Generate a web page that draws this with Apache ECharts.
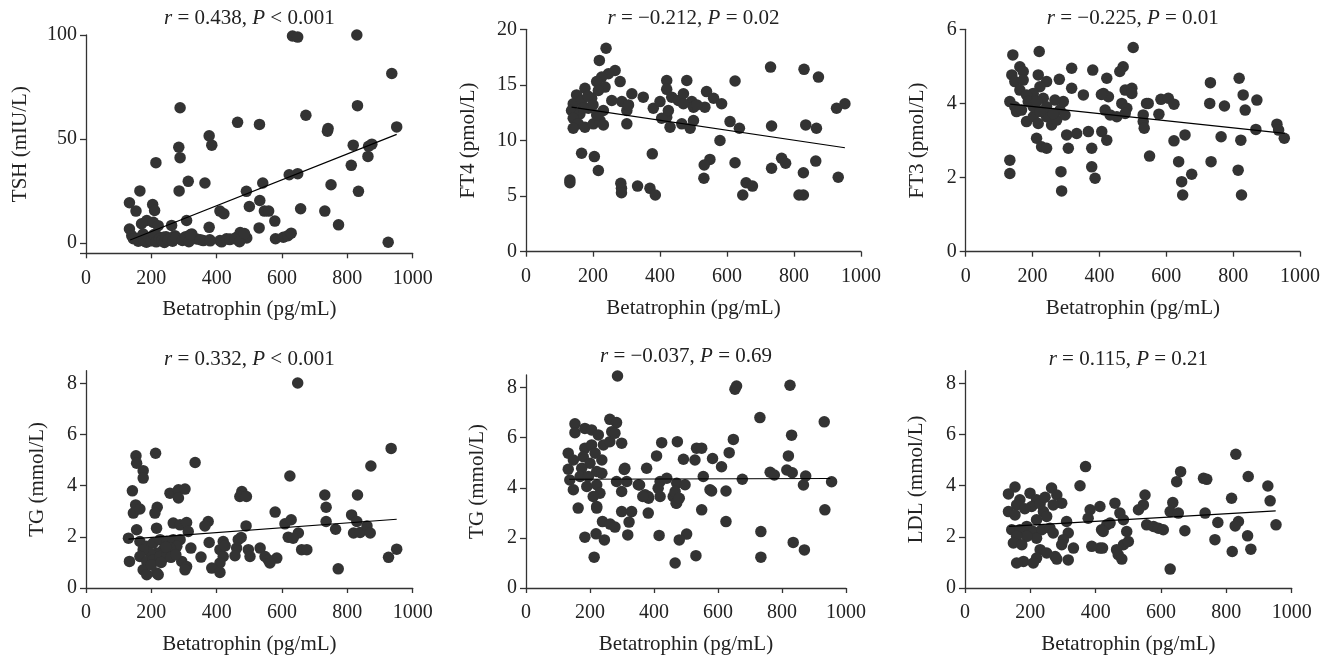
<!DOCTYPE html>
<html>
<head>
<meta charset="utf-8">
<script src="https://cdn.jsdelivr.net/npm/echarts@6/dist/echarts.min.js"></script>
<style>
html,body{margin:0;padding:0;background:#fff;}
#c{width:1331px;height:656px;}
</style>
</head>
<body>
<div id="c"></div>
<script>
// ---------- DATA ----------
const xName = 'Betatrophin (pg/mL)';
const xTicks = [0, 200, 400, 600, 800, 1000];

const yNames = ['TSH (mIU/L)', 'FT4 (pmol/L)', 'FT3 (pmol/L)', 'TG (mmol/L)', 'TG (mmol/L)', 'LDL (mmol/L)'];
const titleR = ['0.438', '\u22120.212', '\u22120.225', '0.332', '\u22120.037', '0.115'];
const titleP = ['< 0.001', '= 0.02', '= 0.01', '< 0.001', '= 0.69', '= 0.21'];
const yMin = [-5, 0, 0, 0, 0, 0];
const yMax = [100, 20, 6, 8.5, 8.5, 8.5];
const yLabelTicks = [[0, 50, 100], [0, 5, 10, 15, 20], [0, 2, 4, 6], [0, 2, 4, 6, 8], [0, 2, 4, 6, 8], [0, 2, 4, 6, 8]];
const yTickMarks = [[-5, 0, 50, 100], [0, 5, 10, 15, 20], [0, 2, 4, 6], [0, 2, 4, 6, 8], [0, 2, 4, 6, 8], [0, 2, 4, 6, 8]];

const tshPts = [
 [829,100],[632,99.5],[648,99],[936,81.5],[288,65],[831,66],[673,61.4],[464,58],[531,57],[741,55],[739,53.7],
 [951,55.8],[377,51.5],[385,47],[284,46],[288,41],[818,47],[875,47.5],[865,46.5],[863,41.6],[214,38.6],[812,37.3],
 [648,33.3],[622,32.8],[541,28.8],[750,28],[313,29.6],[364,28.8],[285,25],[491,24.8],[834,24.8],[165,25],
 [133,19.3],[204,18.5],[210,15.6],[532,20.4],[153,15.3],[500,17.5],[546,15.3],[559,15.3],[410,15.3],[422,14],
 [657,16.4],[731,15.3],[578,10.5],[308,10.8],[773,8.7],[170,9.2],[186,10.8],[206,9.9],[221,8.3],[262,8.4],
 [377,7.5],[530,7.2],[133,6.7],[580,2],[604,2.7],[618,3.5],[628,4.7],[925,0.3],[472,5],[477,2.7],[492,2.4],
 [140,3.5],[155,1.9],[175,4.3],[196,2.7],[216,3.5],[237,2.7],[257,1.9],[272,3.5],[288,1.9],[308,2.7],[324,4.3],
 [339,1.9],[359,1.1],[379,1.5],[410,1.1],[441,1.9],[461,2.7],[145,2],[160,0.8],[170,3],[178,1],[185,0.3],
 [192,2],[200,1],[208,4],[215,0.5],[225,2],[232,1],[240,0.2],[245,3],[252,1.5],[265,0.8],[275,2.5],[295,1.2],
 [305,3],[315,0.6],[320,4],[350,1.5],[380,1],[415,0.5],[430,2],[440,1.6],[455,2],[470,0.6],[485,4.5]
];
const ft4Pts = [
 [239,18.3],[219,17.2],[266,16.3],[246,16.0],[226,15.7],[211,15.3],[281,15.3],[236,14.8],[216,14.5],[176,14.7],
 [151,14.1],[141,13.3],[136,12.7],[196,13.8],[166,13.6],[186,12.9],[161,12.4],[141,12.0],[156,11.5],[141,11.1],
 [176,11.2],[201,11.5],[221,11.8],[231,11.4],[211,12.3],[231,12.7],[256,13.6],[286,13.5],[316,14.2],[350,13.9],
 [301,12.7],[301,11.5],[380,12.9],[400,13.5],[420,15.4],[420,14.6],[435,13.9],[455,13.6],[470,14.2],[480,15.4],
 [495,13.5],[500,13.0],[420,12.1],[430,11.2],[465,11.5],[490,11.1],[500,11.8],[539,14.4],[534,13.0],[560,13.8],
 [584,13.3],[730,16.6],[830,16.4],[873,15.7],[624,15.35],[927,12.9],[952,13.3],[609,11.7],[637,11.1],[733,11.3],
 [835,11.4],[867,11.1],[579,10.0],[166,8.85],[204,8.55],[377,8.8],[549,8.3],[532,7.8],[763,8.4],[775,7.95],
 [865,8.15],[624,8.0],[733,7.5],[828,7.1],[216,7.3],[531,6.6],[932,6.7],[131,6.45],[131,6.2],[283,6.15],
 [285,5.7],[285,5.3],[333,5.9],[370,5.7],[386,5.1],[657,6.2],[676,5.9],[647,5.1],[815,5.1],[828,5.1],
 [470,13.3],[510,13.2],[405,12.0],[425,12.7],[185,14.0],[200,13.2],[170,12.9],[306,13.2]
];
const ft3Pts = [
 [141,5.31],[220,5.4],[501,5.51],[162,4.99],[172,4.86],[138,4.77],[147,4.59],[172,4.63],[162,4.36],[217,4.77],
 [242,4.59],[222,4.45],[202,4.27],[182,4.23],[317,4.95],[280,4.65],[380,4.9],[422,4.68],[471,4.99],[461,4.86],
 [317,4.41],[352,4.23],[412,4.27],[427,4.18],[477,4.36],[497,4.41],[497,4.27],[467,4.0],[482,3.87],[541,4.0],
 [132,4.05],[147,3.91],[152,3.78],[167,3.82],[182,3.51],[202,3.64],[217,3.46],[242,3.64],[257,3.42],[272,3.55],
 [282,3.82],[292,4.05],[267,4.09],[232,4.14],[242,3.91],[202,3.91],[222,3.78],[262,3.73],[187,4.05],[212,4.05],
 [297,3.69],[417,3.82],[432,3.69],[452,3.64],[477,3.73],[212,3.06],[227,2.83],[242,2.79],[307,2.79],[302,3.15],
 [332,3.19],[367,3.24],[407,3.24],[422,3.01],[377,2.79],[132,2.47],[132,2.11],[732,4.56],[818,4.68],[830,4.23],
 [871,4.09],[584,4.11],[606,4.14],[623,3.98],[546,4.0],[730,4.0],[774,3.93],[836,3.82],[578,3.71],[531,3.69],
 [531,3.51],[534,3.33],[868,3.3],[931,3.44],[936,3.28],[953,3.06],[656,3.15],[623,2.99],[764,3.1],[823,3.01],
 [550,2.58],[637,2.43],[734,2.43],[377,2.29],[387,1.98],[285,2.16],[815,2.2],[676,2.09],[646,1.89],[287,1.64],
 [649,1.53],[825,1.53],[406,4.24]
];
const tg1Pts = [
 [153,5.17],[155,4.88],[213,5.27],[334,4.91],[175,4.59],[175,4.3],[142,3.8],[257,3.71],[283,3.84],[303,3.87],
 [283,3.52],[477,3.77],[471,3.58],[491,3.58],[152,3.25],[145,2.93],[165,3.09],[218,3.16],[211,2.93],[579,2.97],
 [267,2.54],[288,2.47],[308,2.56],[313,2.21],[374,2.6],[364,2.43],[490,2.43],[609,2.51],[619,1.99],[155,2.28],
 [216,2.34],[130,1.95],[165,1.82],[186,1.63],[206,1.76],[227,1.89],[247,1.82],[267,1.89],[288,1.89],[278,1.63],
 [257,1.56],[237,1.5],[216,1.37],[196,1.37],[175,1.5],[165,1.23],[186,1.04],[206,1.1],[227,1.23],[247,1.23],
 [267,1.37],[133,1.04],[175,0.71],[216,0.59],[186,0.52],[321,1.56],[352,1.21],[377,1.78],[420,1.82],[410,1.5],
 [420,1.23],[410,0.98],[385,0.78],[410,0.61],[293,1.04],[308,0.84],[303,0.71],[461,1.56],[466,1.89],[456,1.26],
 [497,1.5],[502,1.23],[533,1.56],[548,1.23],[558,1.1],[584,1.17],[648,8.02],[934,5.46],[872,4.77],[624,4.38],
 [731,3.64],[831,3.64],[735,3.16],[735,2.6],[813,2.86],[829,2.6],[819,2.15],[839,2.17],[860,2.43],[870,2.15],
 [628,2.67],[650,2.15],[634,1.95],[764,2.3],[660,1.5],[676,1.5],[926,1.2],[951,1.52],[772,0.75],[563,0.98],
 [475,1.98],[426,1.65],[221,0.52],[200,0.9],[230,1.0],[245,1.6],[260,1.2],[275,1.3]
];
const tg2Pts = [
 [153,6.55],[153,6.2],[184,6.37],[205,6.31],[226,6.11],[262,6.73],[283,6.6],[268,6.24],[132,5.38],[148,5.11],
 [132,4.74],[137,4.31],[148,3.92],[163,3.19],[184,5.58],[205,5.71],[179,5.24],[216,5.38],[237,5.11],[200,4.98],
 [174,4.78],[169,4.45],[195,4.45],[221,4.65],[237,4.58],[190,4.05],[221,4.12],[231,3.78],[210,3.65],[221,3.25],
 [242,5.71],[262,5.84],[278,6.18],[299,5.78],[309,4.78],[377,4.78],[283,4.25],[315,4.25],[299,3.85],[351,4.12],
 [372,3.72],[382,3.65],[419,4.25],[440,4.38],[413,3.98],[419,3.65],[460,3.65],[471,4.18],[497,4.12],[471,3.39],
 [466,3.85],[408,5.27],[424,5.8],[473,5.84],[492,5.14],[528,5.11],[533,5.58],[549,5.58],[221,3.19],[299,3.05],
 [330,3.05],[382,2.99],[554,4.45],[575,3.92],[549,3.12],[286,8.46],[653,7.93],[658,8.06],[825,8.09],[731,6.8],
 [932,6.63],[830,6.1],[648,5.93],[635,5.4],[820,5.27],[583,5.17],[611,4.84],[815,4.71],[832,4.6],[763,4.62],
 [776,4.51],[874,4.47],[867,4.11],[676,4.34],[955,4.24],[580,3.87],[625,3.87],[934,3.12],[625,2.65],[734,2.25],
 [184,2.03],[219,2.16],[245,1.92],[318,2.12],[416,2.1],[502,2.15],[479,1.92],[835,1.82],[870,1.52],[213,1.23],
 [531,1.29],[734,1.23],[466,1.0],[239,2.65],[263,2.55],[278,2.43],[322,2.63],[307,4.73],[355,4.11],[469,3.38],
 [479,3.58],[383,3.58],[365,3.65]
];
const ldlPts = [
 [352,4.0],[153,3.95],[133,3.68],[168,3.45],[158,3.25],[133,2.99],[153,2.86],[199,3.71],[219,3.45],[204,3.19],
 [265,3.91],[281,3.64],[296,3.32],[270,3.25],[240,2.99],[250,2.8],[219,2.67],[143,2.28],[168,2.28],[189,2.41],
 [209,2.21],[235,2.28],[260,2.34],[270,2.15],[219,1.95],[189,2.02],[158,2.02],[148,1.76],[174,1.69],[311,2.6],
 [316,2.15],[301,1.89],[296,1.69],[230,1.5],[250,1.37],[276,1.23],[219,1.17],[179,1.04],[158,0.98],[209,0.98],
 [332,1.56],[316,1.1],[383,3.06],[377,2.73],[413,3.19],[434,2.47],[418,2.28],[459,3.32],[474,2.93],[485,2.67],
 [495,2.21],[485,1.69],[469,1.3],[464,1.5],[413,1.56],[388,1.63],[829,5.23],[369,4.75],[660,4.55],[648,4.16],
 [730,4.29],[740,4.25],[867,4.36],[927,3.99],[551,3.64],[546,3.25],[531,3.06],[816,3.51],[934,3.41],[636,3.34],
 [628,2.99],[653,2.93],[735,2.93],[774,2.56],[837,2.6],[827,2.43],[952,2.47],[556,2.47],[577,2.41],[592,2.34],
 [607,2.28],[673,2.24],[444,2.54],[423,2.21],[500,1.82],[865,2.04],[765,1.89],[421,1.56],[480,1.13],[818,1.43],
 [875,1.52],[628,0.74],[281,1.13],[183,3.1],[230,3.3],[245,3.55]
];
// regression lines (end points)
const tshFit = [[135, 1.4], [951, 52.2]];
const ft4Fit = [[136, 13.0], [952, 9.35]];
const ft3Fit = [[133, 3.98], [955, 3.19]];
const tg1Fit = [[130, 1.91], [951, 2.69]];
const tg2Fit = [[135, 4.34], [951, 4.37]];
const ldlFit = [[135, 2.41], [951, 3.02]];

const allPts = [tshPts, ft4Pts, ft3Pts, tg1Pts, tg2Pts, ldlPts];
const allFits = [tshFit, ft4Fit, ft3Fit, tg1Fit, tg2Fit, ldlFit];

// ---------- LAYOUT ----------
const grids = [
 {left: 86, top: 35, width: 326.7, height: 218.3},
 {left: 526, top: 29.3, width: 335, height: 222.4},
 {left: 965.7, top: 29.3, width: 334.3, height: 222.4},
 {left: 86, top: 370.7, width: 326.7, height: 217.6},
 {left: 526, top: 375, width: 320, height: 213.3},
 {left: 965, top: 370.7, width: 326.7, height: 217.6}
];
const titleTop = [3, 3, 3, 344, 341, 344];
const yNameGap = [55, 47, 38, 38, 38, 38];

const FONT = 'Liberation Serif';
const AX = '#333';
const TXT = '#222';
const plain = v => String(v);

const option = {
  animation: false,
  backgroundColor: '#fff',
  title: grids.map((g, i) => ({
    text: '{i|r} = ' + titleR[i] + ', {i|P} ' + titleP[i],
    left: g.left + g.width / 2 - 5,
    top: titleTop[i],
    textAlign: 'center',
    textStyle: {
      fontFamily: FONT, fontSize: 21, fontWeight: 'normal', color: TXT,
      rich: { i: { fontFamily: FONT, fontSize: 21, fontStyle: 'italic', color: TXT } }
    }
  })),
  grid: grids.map(g => Object.assign({containLabel: false}, g)),
  xAxis: grids.map((g, i) => ({
    type: 'value', gridIndex: i, min: 0, max: 1000, interval: 200,
    name: xName, nameLocation: 'middle', nameGap: 46,
    nameTextStyle: {fontFamily: FONT, fontSize: 21, color: TXT},
    axisLine: {show: true, onZero: false, lineStyle: {color: AX, width: 1.3}},
    axisTick: {show: true, length: 5, lineStyle: {color: AX, width: 1.3}},
    axisLabel: {fontFamily: FONT, fontSize: 20, color: TXT, margin: 15, customValues: xTicks, formatter: plain},
    splitLine: {show: false}
  })),
  yAxis: grids.map((g, i) => ({
    type: 'value', gridIndex: i, min: yMin[i], max: yMax[i],
    name: yNames[i], nameLocation: 'middle', nameGap: yNameGap[i], nameRotate: 90,
    nameTextStyle: {fontFamily: FONT, fontSize: 21, color: TXT},
    axisLine: {show: true, onZero: false, lineStyle: {color: AX, width: 1.3}},
    axisTick: {show: true, length: 6, lineStyle: {color: AX, width: 1.3}, customValues: yTickMarks[i]},
    axisLabel: {fontFamily: FONT, fontSize: 20, color: TXT, margin: 9, customValues: yLabelTicks[i], formatter: plain},
    splitLine: {show: false}
  })),
  series: []
};

allPts.forEach((pts, i) => {
  option.series.push({
    type: 'scatter', xAxisIndex: i, yAxisIndex: i, data: pts,
    symbol: 'circle', symbolSize: 11.5,
    itemStyle: {color: '#333333', opacity: 1},
    z: 2, silent: true
  });
  option.series.push({
    type: 'line', xAxisIndex: i, yAxisIndex: i, data: allFits[i],
    symbol: 'none', lineStyle: {color: '#000', width: 1.2},
    z: 3, silent: true
  });
});

const chart = echarts.init(document.getElementById('c'), null, {renderer: 'canvas'});
chart.setOption(option);
</script>
</body>
</html>
